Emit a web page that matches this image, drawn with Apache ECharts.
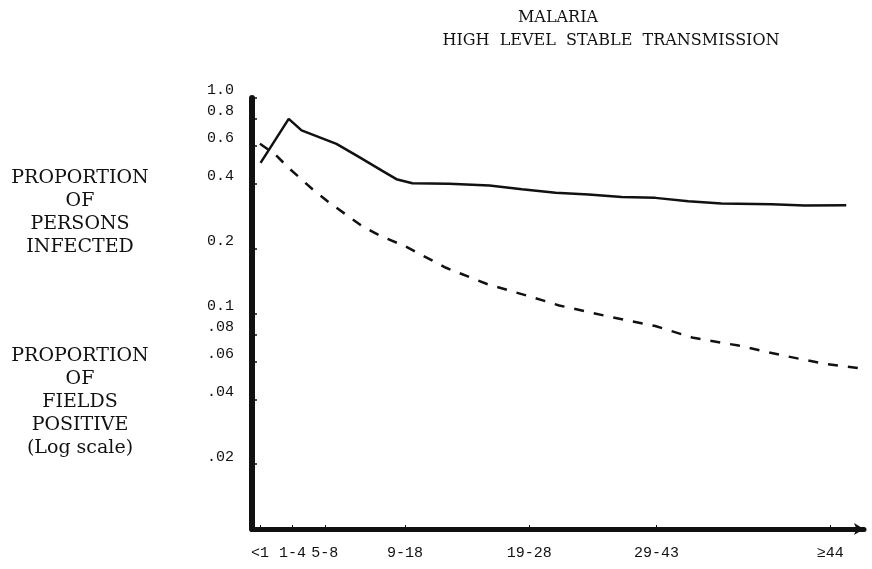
<!DOCTYPE html>
<html>
<head>
<meta charset="utf-8">
<script src="https://cdn.jsdelivr.net/npm/echarts@6/dist/echarts.min.js"></script>
<style>
html,body{margin:0;padding:0;background:#fff;}
#chart{width:872px;height:569px;}
</style>
</head>
<body>
<div id="chart"></div>
<script>
// Age-group tick positions along the horizontal axis (axis units 0..100) and their labels
const xTickPos = [1.3, 6.6, 11.9, 25.0, 45.3, 66.1, 94.5];
const xTickLabels = ['<1', '1-4', '5-8', '9-18', '19-28', '29-43', '\u226544'];

// Log-scale vertical ticks
const yTickValues = [1.0, 0.8, 0.6, 0.4, 0.2, 0.1, 0.08, 0.06, 0.04, 0.02];
const yTickLabels = ['1.0', '0.8', '0.6', '0.4', '0.2', '0.1', '.08', '.06', '.04', '.02'];

// Proportion of persons infected (solid)
const infectedX = [1.4, 6.0, 8.1, 13.8, 17.6, 21.3, 23.6, 26.2, 32.2, 38.8, 44.1, 49.6, 55.0, 60.4, 65.9, 71.3, 76.7, 84.9, 90.3, 97.1];
const infectedY = [0.50, 0.80, 0.708, 0.613, 0.530, 0.459, 0.420, 0.402, 0.400, 0.393, 0.377, 0.363, 0.357, 0.347, 0.344, 0.332, 0.324, 0.321, 0.317, 0.318];

// Proportion of fields positive (dashed)
const fieldsX = [1.3, 3.7, 6.2, 9.9, 12.7, 18.1, 21.3, 24.9, 31.7, 38.4, 45.8, 50.2, 57.8, 65.9, 72.1, 79.5, 86.6, 93.4, 100];
const fieldsY = [0.613, 0.550, 0.468, 0.377, 0.326, 0.253, 0.227, 0.206, 0.163, 0.137, 0.119, 0.109, 0.0975, 0.0875, 0.0771, 0.0710, 0.0640, 0.0585, 0.0554];

function nearestLabel(vals, labels, v, isLog) {
  let best = 0, bd = Infinity;
  for (let i = 0; i < vals.length; i++) {
    const d = isLog ? Math.abs(Math.log(vals[i]) - Math.log(v)) : Math.abs(vals[i] - v);
    if (d < bd) { bd = d; best = i; }
  }
  return labels[best];
}

const chart = echarts.init(document.getElementById('chart'), null, {renderer: 'canvas'});
const ink = '#111';
const serif = '"DejaVu Serif", "Liberation Serif", serif';
const mono = '"Liberation Mono", "DejaVu Sans Mono", monospace';

chart.setOption({
  backgroundColor: '#fff',
  animation: false,
  grid: {left: 252, right: 8, top: 98, bottom: 40, containLabel: false},
  xAxis: {
    type: 'value', min: 0, max: 100,
    axisLine: {show: true, lineStyle: {color: ink, width: 5}, symbol: ['none', 'arrow'], symbolSize: [9, 10]},
    axisTick: {show: true, inside: true, length: 4, lineStyle: {color: ink, width: 1}, customValues: xTickPos},
    axisLabel: {
      show: true, color: ink, fontFamily: mono, fontSize: 15, margin: 17,
      customValues: xTickPos,
      formatter: v => nearestLabel(xTickPos, xTickLabels, v, false)
    },
    splitLine: {show: false}
  },
  yAxis: {
    type: 'log', logBase: 10, min: 0.01, max: 1,
    axisLine: {show: true, lineStyle: {color: ink, width: 6}},
    axisTick: {show: true, inside: true, length: 5, lineStyle: {color: ink, width: 1.5}, customValues: yTickValues},
    axisLabel: {
      show: true, color: ink, fontFamily: mono, fontSize: 15, margin: 18,
      verticalAlign: 'bottom', hideOverlap: false,
      customValues: yTickValues,
      formatter: v => nearestLabel(yTickValues, yTickLabels, v, true)
    },
    splitLine: {show: false},
    minorTick: {show: false}
  },
  series: [
    {
      name: 'Proportion of persons infected', type: 'line',
      data: infectedX.map((x, i) => [x, infectedY[i]]),
      showSymbol: false, smooth: false,
      lineStyle: {color: ink, width: 2.5, type: 'solid'}
    },
    {
      name: 'Proportion of fields positive', type: 'line',
      data: fieldsX.map((x, i) => [x, fieldsY[i]]),
      showSymbol: false, smooth: false,
      lineStyle: {color: ink, width: 2.5, type: [10, 10]}
    }
  ],
  graphic: [
    {type: 'text', style: {text: 'MALARIA', x: 558, y: 18, align: 'center', verticalAlign: 'middle', font: '16px ' + serif, fill: ink}},
    {type: 'text', style: {text: 'HIGH  LEVEL  STABLE  TRANSMISSION', x: 611, y: 41, align: 'center', verticalAlign: 'middle', font: '16px ' + serif, fill: ink}},
    {type: 'text', style: {text: 'PROPORTION\nOF\nPERSONS\nINFECTED', x: 80, y: 213, align: 'center', verticalAlign: 'middle', lineHeight: 23, font: '19px ' + serif, fill: ink}},
    {type: 'text', style: {text: 'PROPORTION\nOF\nFIELDS\nPOSITIVE\n(Log scale)', x: 80, y: 402, align: 'center', verticalAlign: 'middle', lineHeight: 23, font: '19px ' + serif, fill: ink}}
  ]
});
</script>
</body>
</html>
